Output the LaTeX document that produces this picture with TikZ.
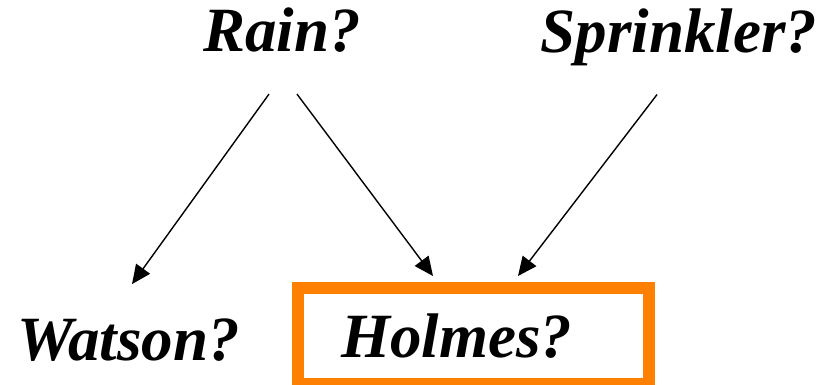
\documentclass[tikz,border=0pt]{standalone}
\usepackage{fontspec}
\setmainfont{Liberation Serif}
\usetikzlibrary{arrows.meta}
\definecolor{boxorange}{HTML}{FF7F00}
\tikzset{
  var/.style={font=\fontsize{63}{63}\selectfont\bfseries\itshape, inner sep=0pt, anchor=base},
  dep/.style={line width=1.4pt, -{Triangle[length=19pt,width=17pt]}}
}
\begin{document}
\begin{tikzpicture}[x=1pt,y=1pt]
  \useasboundingbox (0,0) rectangle (823,-385);
  % variables
  \node[var] (rain) at (282,-52) {Rain?};
  \node[var] (sprinkler) at (679,-53) {Sprinkler?};
  \node[var] (watson) at (128.5,-360) {Watson?};
  \node[var] (holmes) at (456.5,-357) {Holmes?};
  % observed variable
  \node[draw=boxorange, line width=12pt, minimum width=351pt, minimum height=96pt,
        inner sep=0pt] (holmesbox) at (473.5,-336) {};
  % dependencies
  \draw[dep] ([shift={(-13,-41)}]rain.south) -- ([shift={(3.5,34)}]watson.north);
  \draw[dep] ([shift={(15,-41)}]rain.south) -- ([shift={(-40.5,6)}]holmesbox.north);
  \draw[dep] ([shift={(-22,-28)}]sprinkler.south) -- ([shift={(44.5,6)}]holmesbox.north);
\end{tikzpicture}
\end{document}
